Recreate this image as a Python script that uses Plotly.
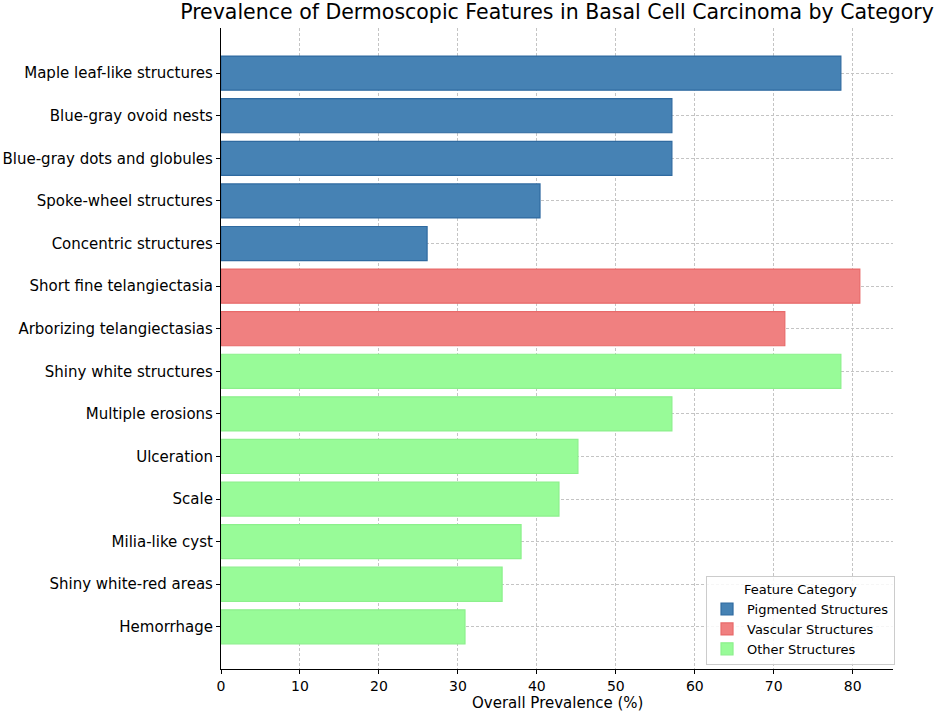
import plotly.graph_objects as go

# feature names, top to bottom
pigmented = ['Maple leaf-like structures', 'Blue-gray ovoid nests', 'Blue-gray dots and globules',
             'Spoke-wheel structures', 'Concentric structures']
pigmented_vals = [78.5, 57.1, 57.1, 40.4, 26.1]

vascular = ['Short fine telangiectasia', 'Arborizing telangiectasias']
vascular_vals = [80.9, 71.4]

other = ['Shiny white structures', 'Multiple erosions', 'Ulceration', 'Scale',
         'Milia-like cyst', 'Shiny white-red areas', 'Hemorrhage']
other_vals = [78.5, 57.1, 45.2, 42.8, 38.0, 35.6, 30.9]

x_ticks = [0, 10, 20, 30, 40, 50, 60, 70, 80]

all_features = pigmented + vascular + other

fig = go.Figure()
fig.add_trace(go.Bar(y=pigmented, x=pigmented_vals, orientation='h', name='Pigmented Structures',
                     marker=dict(color='#4682b4', line=dict(color='#2f6aa0', width=1.2)),
                     width=0.8))
fig.add_trace(go.Bar(y=vascular, x=vascular_vals, orientation='h', name='Vascular Structures',
                     marker=dict(color='#f08080', line=dict(color='#e86a6a', width=1.2)),
                     width=0.8))
fig.add_trace(go.Bar(y=other, x=other_vals, orientation='h', name='Other Structures',
                     marker=dict(color='#98fb98', line=dict(color='#8cf08c', width=1.2)),
                     width=0.8))

plot_h = 712 - 28 - 43

fig.update_layout(
    width=935, height=712,
    margin=dict(l=221, r=42, t=28, b=43),
    plot_bgcolor='white', paper_bgcolor='white',
    font=dict(family='DejaVu Sans', size=15, color='black'),
    title=dict(text='Prevalence of Dermoscopic Features in Basal Cell Carcinoma by Category',
               x=(221 + 893) / 2 / 935, xanchor='center', yref='container', y=1 - 12 / 712,
               yanchor='middle', font=dict(size=20.5, color='black')),
    showlegend=True,
    legend=dict(title=dict(text='Feature Category', side='top center', font=dict(size=13)),
                x=1.003, xanchor='right', y=0.006, yanchor='bottom',
                bgcolor='rgba(255,255,255,0.85)', bordercolor='#cccccc', borderwidth=1,
                font=dict(size=13), traceorder='normal', tracegroupgap=0),
    bargap=0.2,
)

# x axis title placed by hand so the plot area keeps its size
fig.add_annotation(text='Overall Prevalence (%)', xref='paper', yref='paper',
                   x=0.5, y=-(703 - 669) / plot_h, xanchor='center', yanchor='middle',
                   showarrow=False, font=dict(size=15))

fig.update_xaxes(range=[0, 85.1], tickvals=x_ticks, ticks='outside', ticklen=4, tickcolor='black',
                 tickfont=dict(size=14),
                 showline=True, linecolor='black', linewidth=1.2, mirror=False,
                 showgrid=True, gridcolor='#c4c4c4', griddash='3px,2px', gridwidth=1,
                 zeroline=False, layer='above traces', automargin=False)
fig.update_yaxes(categoryorder='array', categoryarray=all_features,
                 range=[13.99, -1.06], ticks='outside', ticklen=4, tickcolor='black',
                 showline=True, linecolor='black', linewidth=1.2,
                 showgrid=True, gridcolor='#c4c4c4', griddash='3px,2px', gridwidth=1,
                 zeroline=False, layer='above traces', automargin=False)

# drop the default 8px body margin so the figure sits at the page corner
fig.write_html('out.html', config={'displayModeBar': False},
               post_script="document.body.style.margin='0';")
